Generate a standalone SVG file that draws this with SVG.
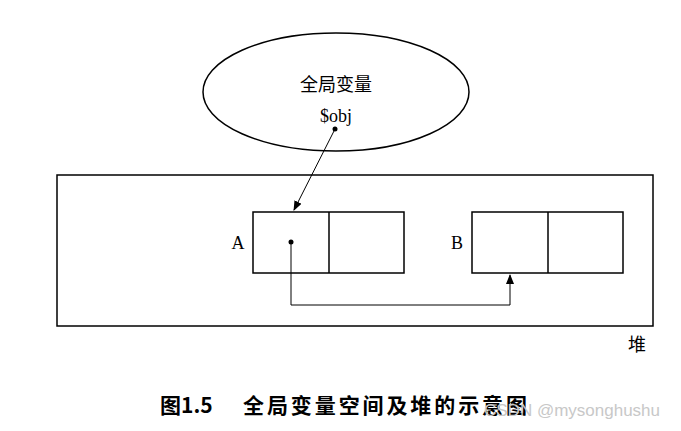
<svg xmlns="http://www.w3.org/2000/svg" width="681" height="431" viewBox="0 0 681 431">
<defs>
<marker id="ah" markerWidth="10" markerHeight="8" refX="9" refY="4" orient="auto" markerUnits="userSpaceOnUse">
<path d="M0,0 L10,4 L0,8 Z" fill="#000"/>
</marker>
</defs>
<style>
.s{fill:none;stroke:#000;stroke-width:1.5}
.c{stroke:#000;stroke-width:1;fill:none}
.t{font-family:"Liberation Serif","Noto Sans CJK SC",serif;font-size:18px;fill:#000}
.cap{font-family:"Noto Sans CJK SC",sans-serif;font-size:21px;font-weight:bold}
</style>
<rect width="681" height="431" fill="#fff"/>
<g id="global">
<ellipse class="s" cx="336" cy="92" rx="133" ry="59"/>
<text class="t" x="336" y="91" text-anchor="middle">全局变量</text>
<text class="t" x="336" y="122" text-anchor="middle">$obj</text>
</g>
<g id="heap">
<rect class="s" x="57" y="175" width="596" height="151"/>
<text class="t" x="637" y="351" text-anchor="middle">堆</text>
</g>
<g id="A">
<rect class="s" x="253" y="212" width="151" height="61"/>
<line class="s" x1="329" y1="212" x2="329" y2="273"/>
<text class="t" x="238" y="249" text-anchor="middle">A</text>
<circle cx="291" cy="242" r="2.5" fill="#000"/>
</g>
<g id="B">
<rect class="s" x="472" y="212" width="151" height="61"/>
<line class="s" x1="548" y1="212" x2="548" y2="273"/>
<text class="t" x="457" y="249" text-anchor="middle">B</text>
</g>
<g id="connectors">
<circle cx="335" cy="129" r="2.5" fill="#000"/>
<line class="c" x1="335" y1="129" x2="294" y2="210" marker-end="url(#ah)"/>
<polyline class="c" points="291,242 291,305 510,305 510,275" marker-end="url(#ah)"/>
</g>
<text class="cap" x="160" y="413">图1.5</text>
<text class="cap" x="243" y="413" textLength="284" lengthAdjust="spacing">全局变量空间及堆的示意图</text>
<text x="572" y="416" text-anchor="middle" font-family="'Liberation Sans',sans-serif" font-size="17" fill="#c8c8c8">CSDN @mysonghushu</text>
</svg>
